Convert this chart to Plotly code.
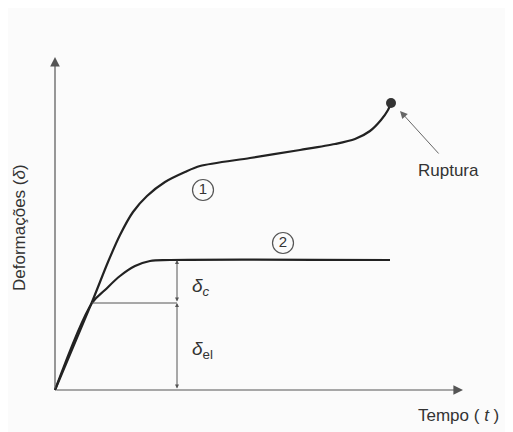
import plotly.graph_objects as go

# Curve 1 (creep to rupture): time vs deformation
t1 = [0, 37, 53, 65, 78, 92, 110, 130, 145, 195, 245, 280, 300, 315, 326, 333, 336]
d1 = [0, 88, 128, 155, 178, 194, 208, 218, 224, 232, 240, 246, 251, 259, 270, 280, 287]
# Curve 2 (stabilised creep)
t2 = [0, 37, 50, 65, 80, 95, 115, 335]
d2 = [0, 87, 100, 114, 124, 129, 130, 130]
# Reference levels
d_el = 87
d_total2 = 130
t_dim = 122
t_kink = 37
rupture_t, rupture_d = 336, 287

INK = "#222222"
GRAY = "#555555"
FONT = "Liberation Sans, Arial, sans-serif"

fig = go.Figure()
fig.add_trace(go.Scatter(x=t2, y=d2, mode="lines", line=dict(color=INK, width=2.2),
                         line_shape="spline", hoverinfo="skip"))
fig.add_trace(go.Scatter(x=t1, y=d1, mode="lines", line=dict(color=INK, width=2.2),
                         line_shape="spline", line_smoothing=0.8, hoverinfo="skip"))
# thin horizontal at elastic level
fig.add_trace(go.Scatter(x=[t_kink, t_dim], y=[d_el, d_el], mode="lines",
                         line=dict(color=GRAY, width=1), hoverinfo="skip"))
# rupture dot
fig.add_trace(go.Scatter(x=[rupture_t], y=[rupture_d], mode="markers",
                         marker=dict(color="#333", size=10), hoverinfo="skip"))
# circled labels
fig.add_trace(go.Scatter(x=[148, 228], y=[200, 147], mode="markers+text",
                         text=["1", "2"], textposition="middle center",
                         textfont=dict(family=FONT, size=15, color="#333"),
                         marker=dict(symbol="circle-open", size=21,
                                     color="#555", line=dict(width=1.2)),
                         hoverinfo="skip"))

ann = []
# axes arrows
ann.append(dict(x=0, y=333, ax=0, ay=0, xref="x", yref="y", axref="x", ayref="y",
                showarrow=True, arrowhead=2, arrowsize=1.6, arrowwidth=1.2,
                arrowcolor=GRAY, text=""))
ann.append(dict(x=408, y=0, ax=0, ay=0, xref="x", yref="y", axref="x", ayref="y",
                showarrow=True, arrowhead=2, arrowsize=1.6, arrowwidth=1.2,
                arrowcolor=GRAY, text=""))
# dimension arrows
ann.append(dict(x=t_dim, y=d_total2, ax=t_dim, ay=d_el, xref="x", yref="y", axref="x",
                ayref="y", showarrow=True, arrowhead=2, startarrowhead=2,
                arrowside="end+start", arrowsize=0.8, startarrowsize=0.8,
                arrowwidth=1, arrowcolor=GRAY, text=""))
ann.append(dict(x=t_dim, y=d_el, ax=t_dim, ay=0, xref="x", yref="y", axref="x",
                ayref="y", showarrow=True, arrowhead=2, startarrowhead=2,
                arrowside="end+start", arrowsize=0.8, startarrowsize=0.8,
                arrowwidth=1, arrowcolor=GRAY, text=""))
# rupture pointer
ann.append(dict(x=345, y=279, ax=385, ay=235, xref="x", yref="y", axref="x", ayref="y",
                showarrow=True, arrowhead=2, arrowsize=1.5, arrowwidth=1,
                arrowcolor="#666", text=""))
# texts
ann.append(dict(x=393, y=220, xref="x", yref="y", text="Ruptura", showarrow=False,
                font=dict(family=FONT, size=17, color="#333")))
ann.append(dict(x=403, y=-25, xref="x", yref="y", text="Tempo ( <i>t</i> )", showarrow=False,
                font=dict(family=FONT, size=17, color="#333")))
ann.append(dict(x=-36, y=162, xref="x", yref="y", text="Deformações (<i>δ</i>)",
                showarrow=False, textangle=-90,
                font=dict(family=FONT, size=17, color="#333")))
ann.append(dict(x=146, y=103, xref="x", yref="y", text="<i>δ</i><sub><i>c</i></sub>",
                showarrow=False, font=dict(family=FONT, size=19, color="#333")))
ann.append(dict(x=147, y=40, xref="x", yref="y", text="<i>δ</i><sub>el</sub>",
                showarrow=False, font=dict(family=FONT, size=19, color="#333")))

fig.update_layout(
    width=505, height=424, margin=dict(l=0, r=0, t=0, b=0),
    paper_bgcolor="#fbfbfb", plot_bgcolor="#fbfbfb", showlegend=False,
    xaxis=dict(range=[-47, 458], visible=False, fixedrange=True),
    yaxis=dict(range=[-42, 382], visible=False, fixedrange=True),
    annotations=ann,
)
fig.write_html("out.html")
